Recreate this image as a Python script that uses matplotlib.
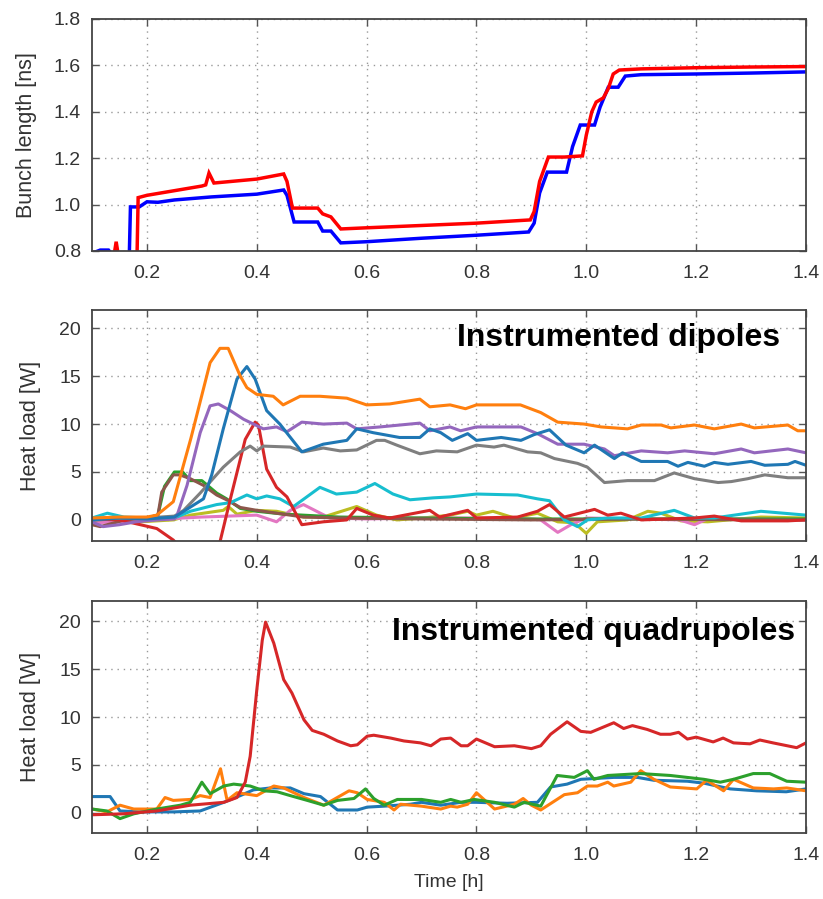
import matplotlib
matplotlib.use("Agg")
import matplotlib.pyplot as plt

# ---------------- data ----------------
# Top panel: bunch length [ns]
bl_red_t = [0.140, 0.144, 0.148, 0.182, 0.184, 0.20, 0.25, 0.30, 0.307, 0.313, 0.322, 0.40, 0.449, 0.455,
            0.465, 0.511, 0.520, 0.535, 0.553, 0.60, 0.70, 0.80, 0.898, 0.905, 0.915, 0.931, 0.96, 0.993,
            1.000, 1.010, 1.018, 1.031, 1.040, 1.049, 1.06, 1.10, 1.20, 1.30, 1.40]
bl_red_v = [0.78, 0.84, 0.78, 0.78, 1.03, 1.04, 1.06, 1.08, 1.085, 1.136, 1.093, 1.11, 1.132, 1.10,
            0.985, 0.985, 0.96, 0.947, 0.895, 0.90, 0.91, 0.92, 0.934, 0.97, 1.10, 1.205, 1.205, 1.21,
            1.30, 1.40, 1.442, 1.46, 1.50, 1.563, 1.58, 1.585, 1.59, 1.593, 1.595]
bl_blue_t = [0.10, 0.115, 0.13, 0.135, 0.168, 0.170, 0.186, 0.200, 0.22, 0.25, 0.317, 0.40, 0.449, 0.455,
             0.468, 0.511, 0.520, 0.535, 0.553, 0.60, 0.70, 0.80, 0.895, 0.905, 0.915, 0.929, 0.964, 0.975,
             0.989, 1.015, 1.025, 1.040, 1.058, 1.071, 1.10, 1.20, 1.30, 1.40]
bl_blue_v = [0.79, 0.804, 0.804, 0.79, 0.79, 0.99, 0.99, 1.012, 1.01, 1.02, 1.033, 1.045, 1.063, 1.04,
             0.925, 0.925, 0.886, 0.886, 0.835, 0.84, 0.855, 0.868, 0.882, 0.92, 1.05, 1.14, 1.14, 1.25,
             1.343, 1.343, 1.42, 1.506, 1.506, 1.554, 1.56, 1.563, 1.567, 1.572]

# Middle panel: heat load in instrumented dipoles [W]
dip_orange_t = [0.10, 0.15, 0.20, 0.218, 0.248, 0.28, 0.315, 0.333, 0.348, 0.37, 0.382, 0.40, 0.43, 0.448,
                0.479, 0.515, 0.564, 0.60, 0.642, 0.697, 0.715, 0.752, 0.78, 0.80, 0.88, 0.917, 0.948, 0.996,
                1.027, 1.075, 1.10, 1.136, 1.154, 1.197, 1.233, 1.282, 1.306, 1.367, 1.385, 1.40]
dip_orange_v = [0.2, 0.3, 0.3, 0.5, 1.9, 8.5, 16.4, 17.9, 17.9, 15.0, 13.8, 13.1, 12.9, 12.0,
                12.9, 12.9, 12.7, 12.0, 12.1, 12.6, 11.8, 12.0, 11.6, 12.0, 12.0, 11.2, 10.2, 10.0,
                9.7, 9.5, 9.9, 9.9, 9.6, 9.9, 9.5, 10.0, 9.6, 9.9, 9.3, 9.3]
dip_blue_t = [0.10, 0.15, 0.20, 0.25, 0.267, 0.303, 0.318, 0.339, 0.364, 0.382, 0.397, 0.418, 0.442, 0.482,
              0.521, 0.564, 0.582, 0.612, 0.66, 0.697, 0.715, 0.735, 0.756, 0.784, 0.80, 0.845, 0.881, 0.905,
              0.933, 0.963, 0.996, 1.015, 1.051, 1.066, 1.10, 1.148, 1.167, 1.185, 1.215, 1.233, 1.258, 1.30,
              1.325, 1.367, 1.38, 1.40]
dip_blue_v = [0.0, 0.2, 0.1, 0.3, 0.9, 2.2, 4.7, 9.5, 14.7, 16.0, 14.7, 11.4, 10.0, 7.1,
              7.9, 8.3, 9.5, 9.1, 8.6, 8.6, 9.5, 9.1, 8.3, 9.0, 8.3, 8.6, 8.3, 8.9,
              9.4, 7.8, 7.0, 7.8, 6.4, 7.0, 6.1, 6.1, 5.6, 6.0, 5.6, 6.0, 5.8, 6.1,
              5.7, 5.8, 6.1, 5.7]
dip_purple_t = [0.10, 0.12, 0.15, 0.18, 0.22, 0.25, 0.255, 0.273, 0.297, 0.315, 0.33, 0.352, 0.376, 0.394,
                0.412, 0.436, 0.455, 0.482, 0.521, 0.564, 0.582, 0.624, 0.697, 0.715, 0.752, 0.771, 0.80,
                0.881, 0.911, 0.948, 0.996, 1.033, 1.051, 1.10, 1.148, 1.179, 1.233, 1.282, 1.306, 1.367, 1.40]
dip_purple_v = [-0.2, -0.7, -0.5, -0.2, 0.0, 0.1, 0.5, 3.6, 9.1, 11.9, 12.1, 11.4, 10.5, 10.0,
                9.5, 9.7, 9.2, 10.2, 10.0, 10.1, 9.5, 9.7, 10.1, 9.3, 9.7, 9.3, 9.7,
                9.7, 9.0, 7.9, 7.9, 7.4, 6.7, 7.2, 7.0, 7.2, 6.9, 7.4, 7.0, 7.4, 7.0]
dip_grey_t = [0.10, 0.20, 0.25, 0.267, 0.297, 0.339, 0.37, 0.388, 0.40, 0.412, 0.461, 0.485, 0.521, 0.552,
              0.582, 0.618, 0.633, 0.655, 0.697, 0.727, 0.765, 0.80, 0.832, 0.85, 0.893, 0.917, 0.942, 0.984,
              1.002, 1.033, 1.075, 1.124, 1.16, 1.197, 1.24, 1.264, 1.294, 1.325, 1.367, 1.40]
dip_grey_v = [0.1, 0.2, 0.4, 1.0, 2.8, 5.5, 7.1, 7.7, 7.2, 7.7, 7.6, 7.1, 7.5, 7.2,
              7.3, 8.3, 8.3, 7.8, 6.9, 7.2, 7.1, 7.8, 7.6, 7.8, 7.1, 7.0, 6.4, 5.9,
              5.5, 3.9, 4.1, 4.1, 4.9, 4.3, 3.9, 4.0, 4.3, 4.7, 4.4, 4.4]
dip_red_t = [0.10, 0.15, 0.188, 0.218, 0.248, 0.27, 0.32, 0.333, 0.352, 0.379, 0.397, 0.403, 0.418, 0.436,
             0.455, 0.482, 0.521, 0.564, 0.582, 0.612, 0.642, 0.715, 0.733, 0.784, 0.80, 0.875, 0.911, 0.933,
             0.96, 1.015, 1.039, 1.063, 1.10, 1.197, 1.233, 1.282, 1.367, 1.40]
dip_red_v = [0.1, 0.0, -0.5, -0.9, -2.1, -3.5, -3.5, -2.3, 2.2, 8.4, 10.2, 9.9, 5.3, 3.4,
             2.4, -0.5, -0.2, 0.0, 1.2, 0.5, 0.2, 1.0, 0.3, 1.0, 0.2, 0.3, 0.9, 1.6,
             0.3, 1.1, 0.5, 0.7, 0.0, 0.2, 0.4, -0.1, -0.1, 0.0]
dip_cyan_t = [0.10, 0.128, 0.158, 0.20, 0.25, 0.279, 0.327, 0.352, 0.382, 0.40, 0.418, 0.442, 0.467, 0.515,
              0.545, 0.582, 0.615, 0.648, 0.679, 0.721, 0.752, 0.784, 0.80, 0.875, 0.911, 0.933, 0.96, 0.984,
              1.002, 1.039, 1.10, 1.16, 1.197, 1.233, 1.318, 1.40]
dip_cyan_v = [0.2, 0.7, 0.3, 0.2, 0.2, 0.9, 1.6, 1.8, 2.6, 2.2, 2.5, 2.2, 1.4, 3.4,
              2.7, 2.9, 3.8, 2.7, 2.1, 2.3, 2.4, 2.6, 2.7, 2.6, 2.2, 2.0, 0.0, -0.7,
              0.0, 0.2, 0.2, 1.0, 0.2, 0.2, 0.9, 0.5]
dip_olive_t = [0.10, 0.188, 0.248, 0.279, 0.339, 0.348, 0.364, 0.40, 0.436, 0.485, 0.521, 0.582, 0.618, 0.655,
               0.703, 0.752, 0.784, 0.80, 0.83, 0.869, 0.911, 0.948, 0.978, 1.0, 1.02, 1.075, 1.112, 1.136,
               1.172, 1.221, 1.318, 1.40]
dip_olive_v = [0.0, -0.2, 0.0, 0.5, 1.0, 1.4, 0.6, 1.0, 0.9, 0.3, 0.3, 1.4, 0.5, 0.0,
               0.2, 0.5, 0.9, 0.5, 0.9, 0.2, 0.7, -0.2, -0.3, -1.4, -0.2, 0.0, 0.9, 0.7,
               -0.1, -0.2, 0.3, 0.2]
dip_pink_t = [0.10, 0.15, 0.20, 0.30, 0.40, 0.436, 0.461, 0.485, 0.509, 0.533, 0.60, 0.70, 0.80, 0.90,
              0.917, 0.948, 0.972, 1.00, 1.10, 1.17, 1.197, 1.22, 1.30, 1.40]
dip_pink_v = [-0.3, -0.2, 0.0, 0.3, 0.5, -0.2, 1.0, 1.6, 0.9, 0.2, 0.1, 0.2, 0.2, 0.1,
              0.0, -1.3, -0.5, 0.2, 0.1, 0.0, -0.5, 0.1, 0.1, 0.0]
dip_brown_t = [0.10, 0.115, 0.16, 0.20, 0.22, 0.227, 0.248, 0.26, 0.279, 0.303, 0.327, 0.345, 0.37, 0.40,
               0.436, 0.485, 0.55, 0.70, 0.90, 1.10, 1.30, 1.40]
dip_brown_v = [-0.5, -0.7, 0.0, 0.2, 0.5, 2.9, 4.7, 4.7, 4.3, 3.6, 2.6, 2.1, 1.3, 1.0,
               0.7, 0.3, 0.2, 0.1, 0.0, 0.1, 0.0, 0.0]
dip_green_t = [0.10, 0.20, 0.22, 0.232, 0.25, 0.265, 0.279, 0.30, 0.327, 0.345, 0.37, 0.40, 0.45, 0.55,
               0.70, 0.90, 1.10, 1.40]
dip_green_v = [0.0, 0.2, 0.5, 3.5, 5.0, 5.0, 4.1, 4.1, 2.8, 2.2, 1.2, 0.9, 0.6, 0.3,
               0.2, 0.1, 0.1, 0.1]

# Bottom panel: heat load in instrumented quadrupoles [W]
quad_red_t = [0.10, 0.157, 0.218, 0.279, 0.34, 0.364, 0.379, 0.388, 0.40, 0.41, 0.416, 0.431, 0.449, 0.464,
              0.486, 0.501, 0.522, 0.547, 0.571, 0.583, 0.601, 0.613, 0.644, 0.668, 0.698, 0.717, 0.735,
              0.753, 0.772, 0.784, 0.80, 0.833, 0.869, 0.90, 0.917, 0.935, 0.965, 0.99, 1.008, 1.05, 1.068,
              1.084, 1.111, 1.135, 1.153, 1.168, 1.184, 1.20, 1.231, 1.249, 1.268, 1.298, 1.316, 1.34,
              1.383, 1.40]
quad_red_v = [-0.2, -0.1, 0.2, 0.8, 1.1, 1.6, 3.2, 5.9, 12.8, 18.0, 19.9, 17.7, 13.9, 12.5,
              9.7, 8.6, 8.2, 7.5, 7.0, 7.1, 8.0, 8.1, 7.8, 7.5, 7.3, 7.0, 7.7,
              7.8, 7.0, 7.0, 7.7, 6.9, 7.0, 6.7, 7.0, 8.2, 9.5, 8.5, 8.4, 9.4, 8.8,
              9.1, 8.7, 8.2, 8.2, 8.4, 7.7, 7.9, 7.4, 7.8, 7.3, 7.2, 7.6, 7.3,
              6.8, 7.3]
quad_blue_t = [0.10, 0.133, 0.151, 0.19, 0.249, 0.297, 0.34, 0.37, 0.394, 0.425, 0.461, 0.486, 0.516, 0.547,
               0.583, 0.601, 0.632, 0.68, 0.70, 0.735, 0.772, 0.80, 0.856, 0.911, 0.935, 0.965, 0.99, 1.05,
               1.093, 1.123, 1.184, 1.214, 1.262, 1.31, 1.364, 1.40]
quad_blue_v = [1.7, 1.7, 0.2, 0.1, 0.1, 0.2, 1.1, 1.8, 2.4, 2.6, 2.6, 2.0, 1.7, 0.3,
               0.3, 0.6, 0.7, 0.9, 1.1, 0.8, 1.1, 1.1, 1.0, 1.1, 2.7, 3.0, 3.5, 3.7,
               3.7, 3.4, 3.3, 3.1, 2.5, 2.3, 2.2, 2.5]
quad_orange_t = [0.10, 0.127, 0.151, 0.176, 0.218, 0.233, 0.248, 0.279, 0.297, 0.315, 0.334, 0.346, 0.364,
                 0.40, 0.431, 0.449, 0.486, 0.522, 0.568, 0.583, 0.601, 0.632, 0.65, 0.662, 0.70, 0.735,
                 0.753, 0.765, 0.784, 0.80, 0.833, 0.869, 0.885, 0.90, 0.917, 0.96, 0.984, 1.002, 1.02,
                 1.039, 1.05, 1.081, 1.099, 1.123, 1.153, 1.201, 1.219, 1.25, 1.268, 1.304, 1.341, 1.365, 1.40]
quad_orange_v = [0.4, 0.1, 0.8, 0.4, 0.4, 1.6, 1.3, 1.4, 1.8, 1.6, 4.6, 1.3, 2.1,
                 1.8, 2.8, 2.6, 1.6, 0.8, 2.3, 2.1, 1.4, 1.1, 0.3, 0.9, 0.7, 0.4,
                 0.7, 0.6, 0.9, 2.1, 0.4, 0.9, 1.5, 0.8, 0.3, 1.9, 2.1, 2.8, 2.8,
                 3.2, 2.8, 3.2, 4.4, 3.5, 2.7, 2.5, 3.4, 2.3, 3.5, 2.6, 2.5, 2.6, 2.3]
quad_green_t = [0.10, 0.127, 0.151, 0.176, 0.218, 0.261, 0.279, 0.30, 0.315, 0.34, 0.358, 0.388, 0.413, 0.437,
                0.461, 0.492, 0.522, 0.547, 0.577, 0.598, 0.613, 0.632, 0.656, 0.70, 0.735, 0.753, 0.772,
                0.796, 0.833, 0.869, 0.887, 0.917, 0.947, 0.978, 1.002, 1.014, 1.039, 1.099, 1.153, 1.214,
                1.244, 1.268, 1.304, 1.334, 1.365, 1.40]
quad_green_v = [0.4, 0.2, -0.6, -0.1, 0.4, 0.8, 1.1, 3.2, 2.0, 2.8, 3.0, 2.8, 2.3, 2.2,
                1.8, 1.3, 0.8, 1.3, 1.5, 2.5, 1.5, 0.8, 1.4, 1.4, 1.1, 1.4, 1.1,
                1.4, 1.1, 0.6, 1.1, 0.7, 3.9, 3.7, 4.4, 3.5, 3.9, 4.1, 3.9, 3.5,
                3.2, 3.5, 4.1, 4.1, 3.3, 3.2]

x_ticks = [0.2, 0.4, 0.6, 0.8, 1.0, 1.2, 1.4]
x_tick_labels = ["0.2", "0.4", "0.6", "0.8", "1.0", "1.2", "1.4"]
bl_ticks = [0.8, 1.0, 1.2, 1.4, 1.6, 1.8]
hl_ticks = [0, 5, 10, 15, 20]

# ---------------- styling ----------------
NARROW = ["Liberation Sans Narrow", "Liberation Sans", "DejaVu Sans"]
BOLD = ["Liberation Sans", "Arial", "DejaVu Sans"]
TICK_COLOR = "#333333"

fig = plt.figure(figsize=(8.23, 8.99), dpi=100)
L, W = 92 / 823, 714 / 823
ax1 = fig.add_axes([L, 1 - 251 / 899, W, 232 / 899])
ax2 = fig.add_axes([L, 1 - 541 / 899, W, 231 / 899])
ax3 = fig.add_axes([L, 1 - 833 / 899, W, 232 / 899])


def style(ax, yticks, ylabel, show_xlabel=False):
    ax.set_xlim(0.1, 1.4)
    ax.set_xticks(x_ticks)
    ax.set_xticklabels(x_tick_labels, family=NARROW, fontsize=14, color=TICK_COLOR)
    ax.set_yticks(yticks)
    ax.tick_params(direction="in", length=5, width=1, color="#555555",
                   top=True, right=True)
    ax.tick_params(axis="x", pad=10)
    ax.tick_params(axis="y", pad=8)
    for lab in ax.get_yticklabels():
        lab.set_family(NARROW)
        lab.set_fontsize(14)
        lab.set_color(TICK_COLOR)
    ax.grid(True, color="#999999", linestyle=(0, (1, 3.5)), linewidth=1.0)
    for s in ax.spines.values():
        s.set_color("#444444")
        s.set_linewidth(1.3)
    ax.set_ylabel(ylabel, family=NARROW, fontsize=15.5, color=TICK_COLOR)
    if show_xlabel:
        ax.set_xlabel("Time [h]", family=NARROW, fontsize=14, color=TICK_COLOR, labelpad=7)


# top panel
ax1.plot(bl_blue_t, bl_blue_v, color="#0000ff", lw=2.5, solid_joinstyle="miter")
ax1.plot(bl_red_t, bl_red_v, color="#ff0000", lw=2.5, solid_joinstyle="miter")
ax1.set_ylim(0.8, 1.8)
style(ax1, bl_ticks, "Bunch length [ns]")
ax1.set_yticklabels(["%.1f" % v for v in bl_ticks], family=NARROW, fontsize=14, color=TICK_COLOR)

# middle panel
lw = 2.2
dip_series = [
    (dip_olive_t, dip_olive_v, "#bcbd22"),
    (dip_pink_t, dip_pink_v, "#e377c2"),
    (dip_green_t, dip_green_v, "#2ca02c"),
    (dip_brown_t, dip_brown_v, "#8c564b"),
    (dip_cyan_t, dip_cyan_v, "#17becf"),
    (dip_red_t, dip_red_v, "#d62728"),
    (dip_grey_t, dip_grey_v, "#7f7f7f"),
    (dip_purple_t, dip_purple_v, "#9467bd"),
    (dip_blue_t, dip_blue_v, "#1f77b4"),
    (dip_orange_t, dip_orange_v, "#ff7f0e"),
]
for t, v, c in dip_series:
    ax2.plot(t, v, color=c, lw=lw)
ax2.set_ylim(-2.2, 21.9)
style(ax2, hl_ticks, "Heat load [W]")
ax2.text(0.964, 0.879, "Instrumented dipoles", transform=ax2.transAxes, ha="right", va="center",
         fontsize=23, fontweight="bold", family=BOLD, color="black")

# bottom panel
quad_series = [
    (quad_blue_t, quad_blue_v, "#1f77b4"),
    (quad_orange_t, quad_orange_v, "#ff7f0e"),
    (quad_green_t, quad_green_v, "#2ca02c"),
    (quad_red_t, quad_red_v, "#d62728"),
]
for t, v, c in quad_series:
    ax3.plot(t, v, color=c, lw=lw)
ax3.set_ylim(-2.1, 22.1)
style(ax3, hl_ticks, "Heat load [W]", show_xlabel=True)
ax3.text(0.985, 0.866, "Instrumented quadrupoles", transform=ax3.transAxes, ha="right", va="center",
         fontsize=23, fontweight="bold", family=BOLD, color="black")

# y label positions (right edge of rotated label)
ax1.yaxis.set_label_coords(-0.077, 0.5)
ax2.yaxis.set_label_coords(-0.072, 0.5)
ax3.yaxis.set_label_coords(-0.072, 0.5)

fig.savefig("out.png", dpi=100)
